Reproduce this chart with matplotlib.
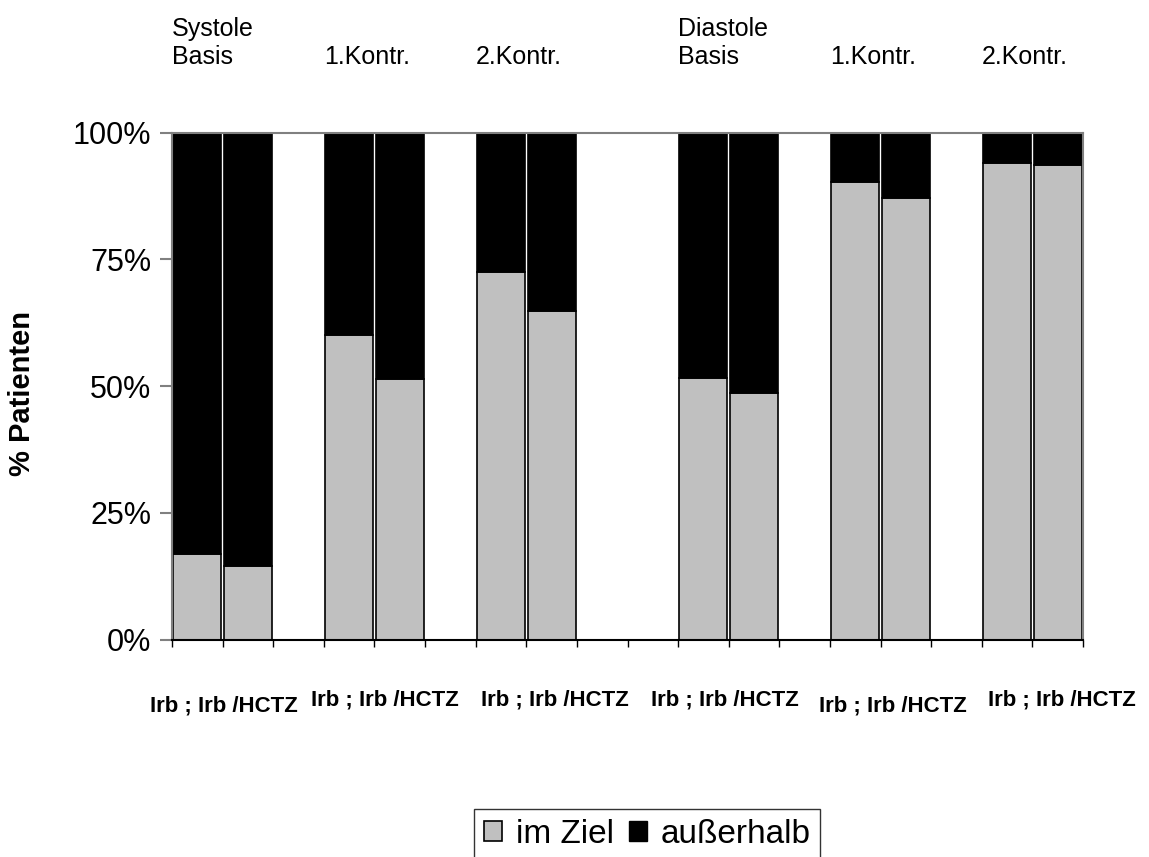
import matplotlib
matplotlib.use("Agg")
import matplotlib.pyplot as plt
from matplotlib.patches import Patch

plt.rcParams['font.family'] = ['Liberation Sans', 'DejaVu Sans']

# ---- data ----
slot_index = [0, 1, 3, 4, 6, 7, 10, 11, 13, 14, 16, 17]
im_ziel = [16.8, 14.4, 60.0, 51.3, 72.5, 64.7, 51.5, 48.6, 90.2, 87.1, 94.0, 93.6]
ausserhalb = [100 - v for v in im_ziel]
n_slots = 18
group_titles = ["Systole\nBasis", "1.Kontr.", "2.Kontr.", "Diastole\nBasis", "1.Kontr.", "2.Kontr."]
group_start = [0, 3, 6, 10, 13, 16]
pair_label = "Irb ; Irb /HCTZ"
pair_label_x = [1.02, 4.21, 7.57, 10.92, 14.25, 17.59]
pair_label_y = [706, 700, 700, 700, 706, 700]  # pixel rows
yticks = [0, 25, 50, 75, 100]
ytick_labels = ["0%", "25%", "50%", "75%", "100%"]

W, H = 1149, 857
fig = plt.figure(figsize=(W / 100, H / 100), dpi=100)
ax = fig.add_axes([172 / W, 1 - 639.5 / H, (1083 - 172) / W, (639.5 - 132.5) / H])

xc = [i + 0.5 for i in slot_index]
ax.bar(xc, im_ziel, width=0.95, color="#C0C0C0", edgecolor="black", linewidth=1.2,
       label="im Ziel", zorder=2)
ax.bar(xc, ausserhalb, bottom=im_ziel, width=0.95, color="black", edgecolor="black",
       linewidth=1.2, label="außerhalb", zorder=2)

ax.set_xlim(0, n_slots)
ax.set_ylim(0, 100)
ax.set_yticks(yticks)
ax.set_yticklabels(ytick_labels, fontsize=22)
ax.set_xticks(range(0, n_slots + 1))
ax.set_xticklabels([])
ax.tick_params(axis='y', direction='out', length=9, width=1.5, color="#808080", pad=6)
ax.tick_params(axis='x', direction='out', length=5, width=1, color="black")

for s in ["left", "top", "right"]:
    ax.spines[s].set_color("#808080")
    ax.spines[s].set_linewidth(1.5)
ax.spines["bottom"].set_color("black")
ax.spines["bottom"].set_linewidth(1.5)

# y axis title, placed by its centre in figure pixels
fig.text(22 / W, 1 - 394 / H, "% Patienten", rotation=90, ha="center", va="center",
         fontsize=21, fontweight="bold")

# group titles above
for t, g in zip(group_titles, group_start):
    ax.text(g, 1 + (132.5 - 64) / 507, t, transform=ax.get_xaxis_transform(),
            ha="left", va="baseline", fontsize=18, linespacing=1.2)

# pair labels below
for x, py in zip(pair_label_x, pair_label_y):
    ax.text(x, -(py - 639.5) / 507, pair_label, transform=ax.get_xaxis_transform(),
            ha="center", va="center", fontsize=16, fontweight="bold")

handles = [Patch(facecolor="#C0C0C0", edgecolor="black", linewidth=1.2),
           Patch(facecolor="black", edgecolor="black")]
leg = fig.legend(handles, ["im Ziel", "außerhalb"], loc="upper left",
                 bbox_to_anchor=(474 / W, 1 - 809 / H), ncol=2, fontsize=24,
                 frameon=True, fancybox=False, shadow=False,
                 handlelength=0.55, handleheight=0.55, handletextpad=0.4,
                 columnspacing=0.45, borderpad=0.3, borderaxespad=0)
leg.get_frame().set_edgecolor("black")
leg.get_frame().set_linewidth(1.0)

fig.savefig("out.png", dpi=100)
